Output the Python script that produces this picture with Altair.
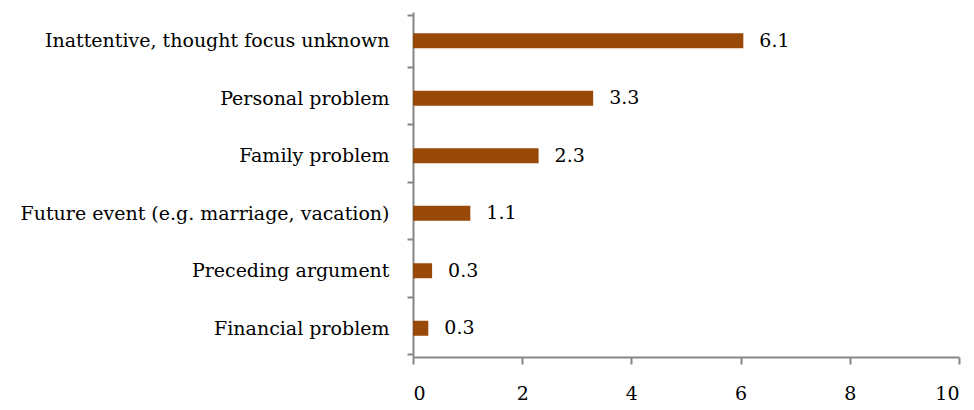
import altair as alt
import pandas as pd

categories = [
    "Inattentive, thought focus unknown",
    "Personal problem",
    "Family problem",
    "Future event (e.g. marriage, vacation)",
    "Preceding argument",
    "Financial problem",
]
values = [6.05, 3.3, 2.3, 1.05, 0.35, 0.28]
labels = ["6.1", "3.3", "2.3", "1.1", "0.3", "0.3"]
x_ticks = [0, 2, 4, 6, 8, 10]

df = pd.DataFrame({"cat": categories, "val": values, "lab": labels})

FONT = "DejaVu Serif"
FS = 19
AX = "#868686"

y_enc = alt.Y(
    "cat:N", sort=None, title=None,
    axis=alt.Axis(
        domainColor=AX, domainWidth=2, tickColor=AX, tickWidth=2, tickSize=6,
        tickBand="extent", labelPadding=18, labelFont=FONT, labelFontSize=FS,
        labelColor="#000000", labelLimit=500, grid=False,
    ),
)
x_enc = alt.X(
    "val:Q", title=None,
    scale=alt.Scale(domain=[0, 10], nice=False, zero=True),
    axis=alt.Axis(
        values=x_ticks, domainColor=AX, domainWidth=2, tickColor=AX, tickWidth=2,
        tickSize=7, labelPadding=20, labelFont=FONT, labelFontSize=FS,
        labelColor="#000000", grid=False, format="d",
    ),
)

bars = alt.Chart(df).mark_bar(size=15, color="#984807").encode(x=x_enc, y=y_enc)
text = alt.Chart(df).mark_text(
    align="left", baseline="middle", dx=16, font=FONT, fontSize=FS, color="#000000"
).encode(x="val:Q", y=alt.Y("cat:N", sort=None), text="lab:N")

chart = (bars + text).properties(
    width=546, height=345,
    autosize=alt.AutoSizeParams(type="none"),
    padding={"left": 405, "top": 4, "right": 7, "bottom": 52},
).configure(background="#ffffff").configure_view(strokeWidth=0)

chart.save("out.html", embed_options={"renderer": "svg", "actions": False})
